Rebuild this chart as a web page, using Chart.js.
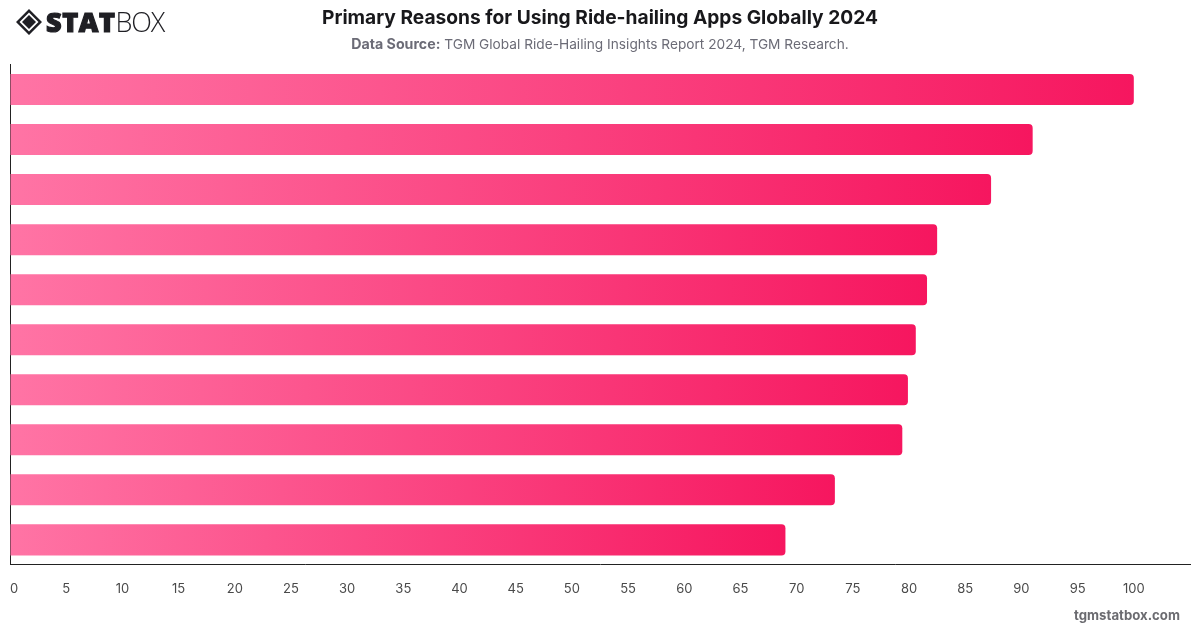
<!DOCTYPE html>
<html>
<head>
<meta charset="utf-8">
<title>Primary Reasons for Using Ride-hailing Apps Globally 2024</title>
<script src="https://cdn.jsdelivr.net/npm/chart.js@4"></script>
<style>
  html, body { margin: 0; padding: 0; background: #fff; }
  #wrap { position: relative; width: 1200px; height: 628px; overflow: hidden; font-family: Inter, sans-serif; }
  #chart { position: absolute; left: 0; top: 0; }
  .logo { position: absolute; left: 15px; top: 8px; display: flex; align-items: center; }
  .logo span { font-family: "Open Sans", sans-serif; font-size: 27px; line-height: 28px; color: #1f1f24; }
  .logo .heavy { font-weight: 800; margin-left: 3px; -webkit-text-stroke: 1.2px #1f1f24; letter-spacing: 0.6px; }
  .logo .thin { font-weight: 300; letter-spacing: -1.2px; }
  h1 { position: absolute; left: 0; top: 5px; width: 1200px; margin: 0; text-align: center; font-size: 19.2px; line-height: 24px; font-weight: 700; color: #18181b; }
  .source { position: absolute; left: 0; top: 36px; width: 1200px; text-align: center; font-size: 13.7px; line-height: 16px; color: #6b6b76; }
  .source b { font-weight: 700; font-size: 14.2px; }
  .site { position: absolute; right: 20px; top: 607px; font-size: 13.2px; line-height: 16px; font-weight: 700; color: #6b6b70; }
</style>
</head>
<body>
<div id="wrap">
  <canvas id="chart" width="1200" height="628"></canvas>
  <div class="logo">
    <svg width="28" height="28" viewBox="0 0 28 28">
      <path d="M14 1 L27 14 L14 27 L1 14 Z M14 4.5 L4.5 14 L14 23.5 L23.5 14 Z" fill="#1f1f24" fill-rule="evenodd"/>
      <path d="M14 7 L21 14 L14 21 L7 14 Z" fill="#1f1f24"/>
    </svg>
    <span class="heavy">STAT</span><span class="thin">BOX</span>
  </div>
  <h1>Primary Reasons for Using Ride-hailing Apps Globally 2024</h1>
  <div class="source"><b>Data Source:</b> TGM Global Ride-Hailing Insights Report 2024, TGM Research.</div>
  <div class="site">tgmstatbox.com</div>
</div>
<script>
const reasons = ['Reason 1', 'Reason 2', 'Reason 3', 'Reason 4', 'Reason 5', 'Reason 6', 'Reason 7', 'Reason 8', 'Reason 9', 'Reason 10'];
const shares = [100, 91, 87.3, 82.5, 81.6, 80.6, 79.9, 79.4, 73.4, 69];
const axisMax = 105;

// each bar runs through the full pink ramp, whatever its length
const barGradient = (ctx) => {
  const { chart, dataIndex } = ctx;
  if (!chart.chartArea) return '#f6165f';
  const xScale = chart.scales.x;
  const gradient = chart.ctx.createLinearGradient(xScale.getPixelForValue(0), 0, xScale.getPixelForValue(shares[dataIndex]), 0);
  gradient.addColorStop(0, '#ff74a5');
  gradient.addColorStop(1, '#f6165f');
  return gradient;
};

new Chart(document.getElementById('chart'), {
  type: 'bar',
  data: {
    labels: reasons,
    datasets: [{
      data: shares,
      backgroundColor: barGradient,
      borderRadius: { topRight: 4, bottomRight: 4 },
      borderSkipped: false,
      barPercentage: 0.62,
      categoryPercentage: 1,
    }],
  },
  options: {
    indexAxis: 'y',
    responsive: false,
    animation: false,
    layout: { padding: { top: 64.5, left: 10, right: 10, bottom: 31.5 } },
    plugins: {
      legend: { display: false },
      tooltip: { enabled: false },
    },
    scales: {
      x: {
        min: 0,
        max: axisMax,
        // ticks.padding also widens the plot inset, so the gap under the axis comes from invisible tick marks
        grid: { drawOnChartArea: false, drawTicks: true, tickLength: 16, tickColor: 'transparent' },
        border: { display: true, color: '#222', width: 1 },
        ticks: {
          stepSize: 5,
          align: 'inner',
          padding: 0,
          maxRotation: 0,
          autoSkip: false,
          color: '#4a4a4a',
          font: { family: 'Inter', size: 13 },
          callback: (value) => (value > 100 ? '' : value),
        },
      },
      y: {
        grid: { display: false, drawTicks: false },
        border: { display: true, color: '#222', width: 1 },
        ticks: { display: false },
      },
    },
  },
});
</script>
</body>
</html>
